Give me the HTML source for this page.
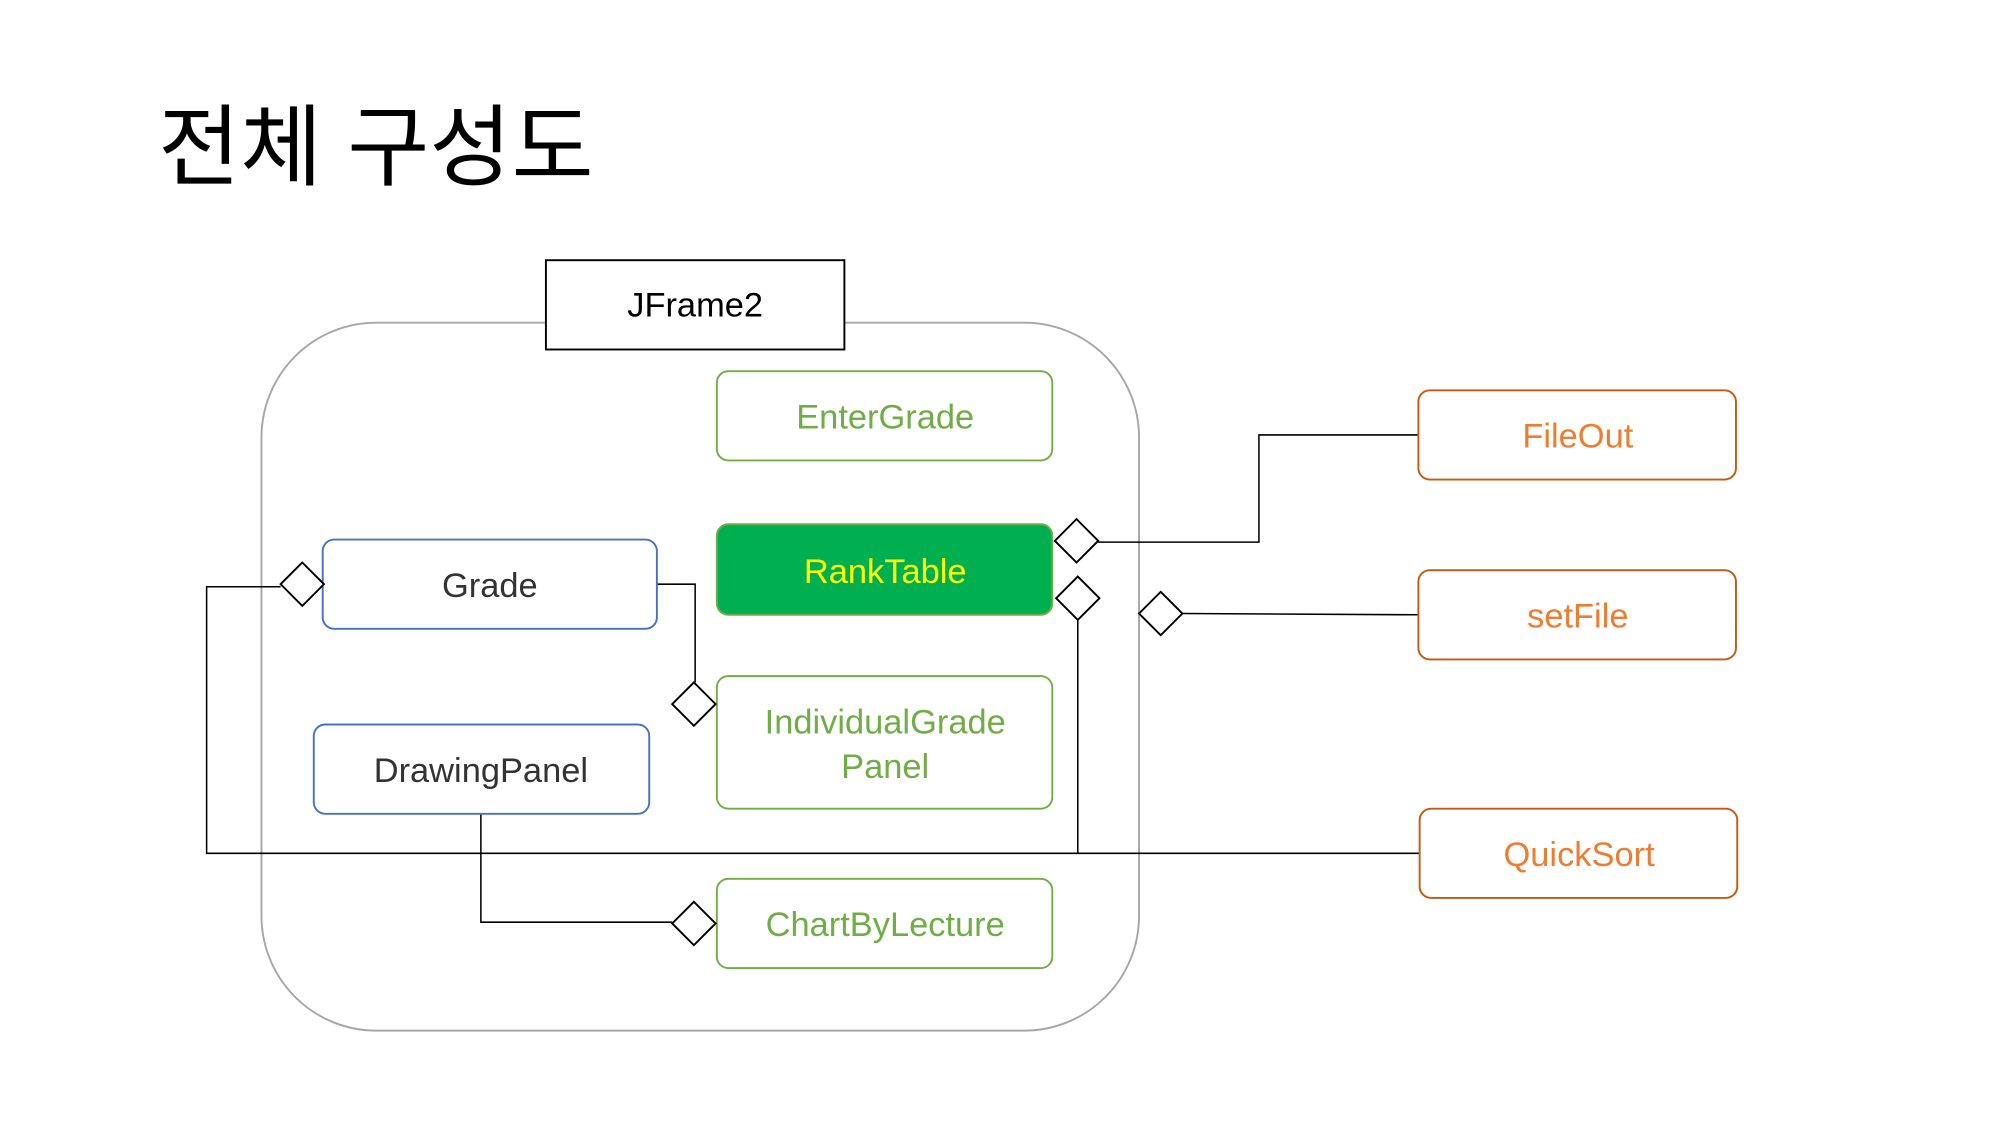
<!DOCTYPE html>
<html><head><meta charset="utf-8"><style>
html,body{margin:0;padding:0;background:#fff;width:2000px;height:1125px;overflow:hidden}
svg{display:block}
text{font-family:"Liberation Sans","Noto Sans CJK KR",sans-serif}
</style></head><body>
<svg width="2000" height="1125" viewBox="0 0 1568 882" preserveAspectRatio="none" xmlns="http://www.w3.org/2000/svg">
<text x="124" y="140" font-size="70" font-weight="400" fill="#000" font-family="'Liberation Sans','Noto Sans CJK KR',sans-serif">전체 구성도</text>
<rect x="205" y="253" width="688" height="555" rx="90" fill="none" stroke="#a6a6a6" stroke-width="1.5"/>
<rect x="428" y="204" width="234" height="70" fill="#fff" stroke="#000" stroke-width="1.5"/>
<text x="545" y="248" font-size="27" text-anchor="middle" fill="#000">JFrame2</text>
<g fill="none" stroke="#000" stroke-width="1.2">
<polyline points="515,458 545,458 545,535"/>
<polyline points="220,460 162,460 162,669 1113,669"/>
<polyline points="845,486 845,669"/>
<polyline points="861,425 987,425 987,341 1112,341"/>
<polyline points="927,481 1112,482"/>
<polyline points="377,638 377,723 527,723"/>
</g>
<g stroke-width="1.5">
<rect x="562" y="291" width="263" height="70" rx="9" fill="#fff" stroke="#70ad47"/>
<rect x="562" y="411" width="263" height="71" rx="9" fill="#00b050" stroke="#70ad47"/>
<rect x="253" y="423" width="262" height="70" rx="9" fill="#fff" stroke="#4472c4"/>
<rect x="562" y="530" width="263" height="104" rx="9" fill="#fff" stroke="#70ad47"/>
<rect x="246" y="568" width="263" height="70" rx="9" fill="#fff" stroke="#4472c4"/>
<rect x="562" y="689" width="263" height="70" rx="9" fill="#fff" stroke="#70ad47"/>
<rect x="1112" y="306" width="249" height="70" rx="9" fill="#fff" stroke="#c55a11"/>
<rect x="1112" y="447" width="249" height="70" rx="9" fill="#fff" stroke="#c55a11"/>
<rect x="1113" y="634" width="249" height="70" rx="9" fill="#fff" stroke="#c55a11"/>
</g>
<g font-size="27" text-anchor="middle">
<text x="694" y="336" fill="#70ad47">EnterGrade</text>
<text x="694" y="457" fill="#ffff00">RankTable</text>
<text x="384" y="468" fill="#333">Grade</text>
<text x="694" y="575" fill="#70ad47">IndividualGrade</text>
<text x="694" y="610" fill="#70ad47">Panel</text>
<text x="377" y="613" fill="#333">DrawingPanel</text>
<text x="694" y="734" fill="#70ad47">ChartByLecture</text>
<text x="1237" y="351" fill="#ed7d31">FileOut</text>
<text x="1237" y="492" fill="#ed7d31">setFile</text>
<text x="1238" y="679" fill="#ed7d31">QuickSort</text>
</g>
<g fill="#fff" stroke="#000" stroke-width="1.5">
<polygon points="237,441 254,458 237,475 220,458"/>
<polygon points="544,535 561,552 544,569 527,552"/>
<polygon points="844,407 861,424 844,441 827,424"/>
<polygon points="845,452 862,469 845,486 828,469"/>
<polygon points="910,464 927,481 910,498 893,481"/>
<polygon points="544,707 561,724 544,741 527,724"/>
</g>
</svg>
</body></html>
